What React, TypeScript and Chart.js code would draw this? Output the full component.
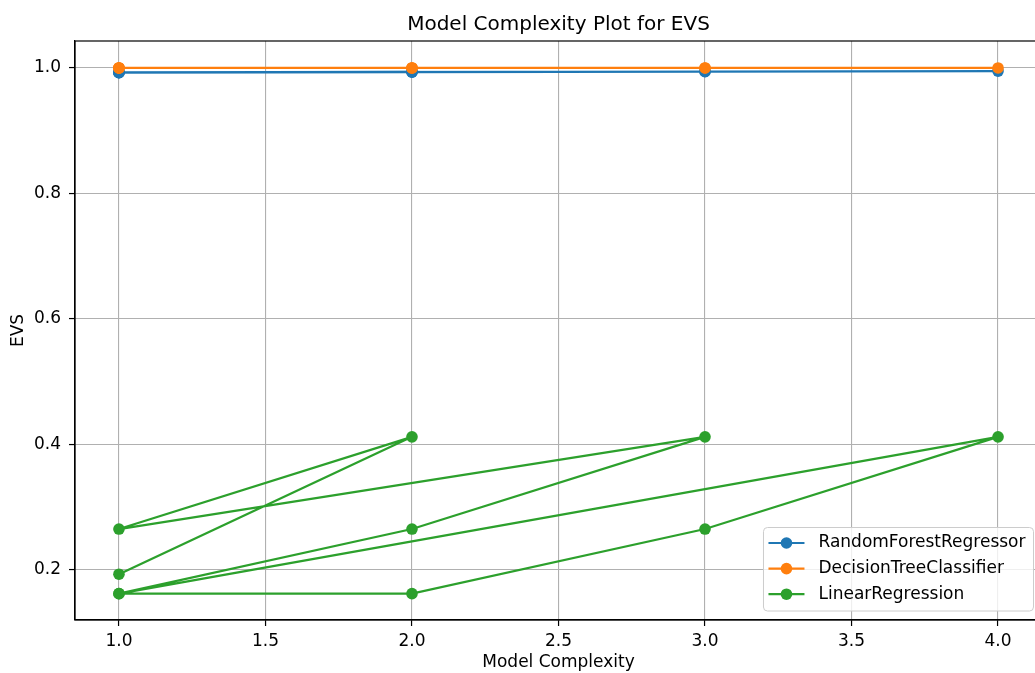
import React, { useEffect, useRef } from "react";
import { Chart, registerables } from "chart.js";

Chart.register(...registerables);

const xValues = [1, 2, 3, 4, 1, 2, 3, 1, 2, 1];
const rfValues = [0.9925, 0.9932, 0.9942, 0.995, 0.9926, 0.9936, 0.9944, 0.993, 0.994, 0.9928];
const dtValues = [1.0, 1.0, 1.0, 1.0, 1.0, 1.0, 1.0, 1.0, 1.0, 1.0];
const lrValues = [0.162, 0.162, 0.265, 0.412, 0.162, 0.265, 0.412, 0.265, 0.412, 0.193];

const seriesNames = ["RandomForestRegressor", "DecisionTreeClassifier", "LinearRegression"];
const seriesColors = ["#1f77b4", "#ff7f0e", "#2ca02c"];

const xTicks = [1.0, 1.5, 2.0, 2.5, 3.0, 3.5, 4.0];
const yTicks = [0.2, 0.4, 0.6, 0.8, 1.0];

const FONT = "'DejaVu Sans', sans-serif";

const toPoints = (ys: number[]) => ys.map((y, i) => ({ x: xValues[i], y }));

const frameAndLegend = {
  id: "frameAndLegend",
  afterDraw(chart: any) {
    const ctx = chart.ctx;
    const ca = chart.chartArea;
    ctx.save();
    ctx.strokeStyle = "#000";
    ctx.lineWidth = 1.2;
    ctx.strokeRect(ca.left, ca.top, ca.right - ca.left, ca.bottom - ca.top);

    ctx.font = `17px ${FONT}`;
    const labels = chart.data.datasets.map((d: any) => d.label);
    const textW = Math.max(...labels.map((l: string) => ctx.measureText(l).width));
    const padL = 5, handle = 36, gap = 14, padR = 8;
    const boxW = padL + handle + gap + textW + padR;
    const boxH = 83.5;
    const right = ca.right - 8.5;
    const bottom = ca.bottom - 9;
    const left = right - boxW;
    const top = bottom - boxH;
    const r = 4;
    ctx.beginPath();
    ctx.moveTo(left + r, top);
    ctx.lineTo(right - r, top);
    ctx.quadraticCurveTo(right, top, right, top + r);
    ctx.lineTo(right, bottom - r);
    ctx.quadraticCurveTo(right, bottom, right - r, bottom);
    ctx.lineTo(left + r, bottom);
    ctx.quadraticCurveTo(left, bottom, left, bottom - r);
    ctx.lineTo(left, top + r);
    ctx.quadraticCurveTo(left, top, left + r, top);
    ctx.closePath();
    ctx.fillStyle = "rgba(255,255,255,0.8)";
    ctx.fill();
    ctx.strokeStyle = "#cccccc";
    ctx.lineWidth = 1;
    ctx.stroke();

    chart.data.datasets.forEach((d: any, i: number) => {
      const cy = top + 15.5 + i * 25.6;
      const x0 = left + padL;
      ctx.strokeStyle = d.borderColor;
      ctx.lineWidth = 2.2;
      ctx.beginPath();
      ctx.moveTo(x0, cy);
      ctx.lineTo(x0 + handle, cy);
      ctx.stroke();
      ctx.fillStyle = d.borderColor;
      ctx.beginPath();
      ctx.arc(x0 + handle / 2, cy, 5.8, 0, Math.PI * 2);
      ctx.fill();
      ctx.fillStyle = "#000";
      ctx.textBaseline = "middle";
      ctx.textAlign = "left";
      ctx.fillText(d.label, x0 + handle + gap, cy);
    });
    ctx.restore();
  },
};

export default function App() {
  const ref = useRef<HTMLCanvasElement>(null);
  useEffect(() => {
    if (!ref.current) return;
    const all = [rfValues, dtValues, lrValues];
    const chart = new Chart(ref.current, {
      type: "line",
      data: {
        datasets: all.map((vals, i) => ({
          label: seriesNames[i],
          data: toPoints(vals),
          borderColor: seriesColors[i],
          backgroundColor: seriesColors[i],
          pointBackgroundColor: seriesColors[i],
          pointBorderWidth: 0,
          pointRadius: 5.8,
          borderWidth: 2.2,
          fill: false,
          tension: 0,
          order: 3 - i,
        })),
      },
      options: {
        responsive: false,
        animation: false,
        devicePixelRatio: 1,
        layout: { padding: { left: 0, right: 18, top: 0, bottom: 0 } },
        plugins: {
          legend: { display: false },
          tooltip: { enabled: false },
          title: {
            display: true,
            text: "Model Complexity Plot for EVS",
            fullSize: false,
            color: "#000",
            font: { family: FONT, size: 20, weight: "normal", lineHeight: 1.2 },
            padding: { top: 12.5, bottom: 4.5 },
          },
        },
        scales: {
          x: {
            type: "linear",
            min: 0.85,
            max: 4.15,
            afterBuildTicks: (scale: any) => {
              scale.ticks = xTicks.map((v) => ({ value: v }));
            },
            afterFit: (scale: any) => {
              scale.height = 53;
            },
            ticks: {
              color: "#000",
              font: { family: FONT, size: 17 },
              padding: 5,
              maxRotation: 0,
              autoSkip: false,
              callback: (v: any) => Number(v).toFixed(1),
            },
            grid: {
              color: "#b0b0b0",
              lineWidth: 1.1,
              tickColor: "#000",
              tickLength: 6,
              tickWidth: 1.2,
            },
            border: { display: true, color: "#000", width: 1.2 },
            title: {
              display: true,
              text: "Model Complexity",
              color: "#000",
              font: { family: FONT, size: 17, lineHeight: 1.2 },
              padding: { top: 0, bottom: 0 },
            },
          },
          y: {
            type: "linear",
            min: 0.12,
            max: 1.043,
            afterBuildTicks: (scale: any) => {
              scale.ticks = yTicks.map((v) => ({ value: v }));
            },
            afterFit: (scale: any) => {
              scale.width = 75;
            },
            ticks: {
              color: "#000",
              font: { family: FONT, size: 17 },
              padding: 8,
              autoSkip: false,
              callback: (v: any) => Number(v).toFixed(1),
            },
            grid: {
              color: "#b0b0b0",
              lineWidth: 1.1,
              tickColor: "#000",
              tickLength: 6,
              tickWidth: 1.2,
            },
            border: { display: true, color: "#000", width: 1.2 },
            title: {
              display: true,
              text: "EVS",
              color: "#000",
              font: { family: FONT, size: 17, lineHeight: 1.2 },
              padding: { top: 8.3, bottom: 0 },
            },
          },
        },
      },
      plugins: [frameAndLegend],
    });
    return () => chart.destroy();
  }, []);
  return (
    <div style={{ position: "fixed", left: 0, top: 0, width: 1060, height: 673, background: "#fff" }}>
      <canvas ref={ref} width={1060} height={673} style={{ display: "block" }} />
    </div>
  );
}
